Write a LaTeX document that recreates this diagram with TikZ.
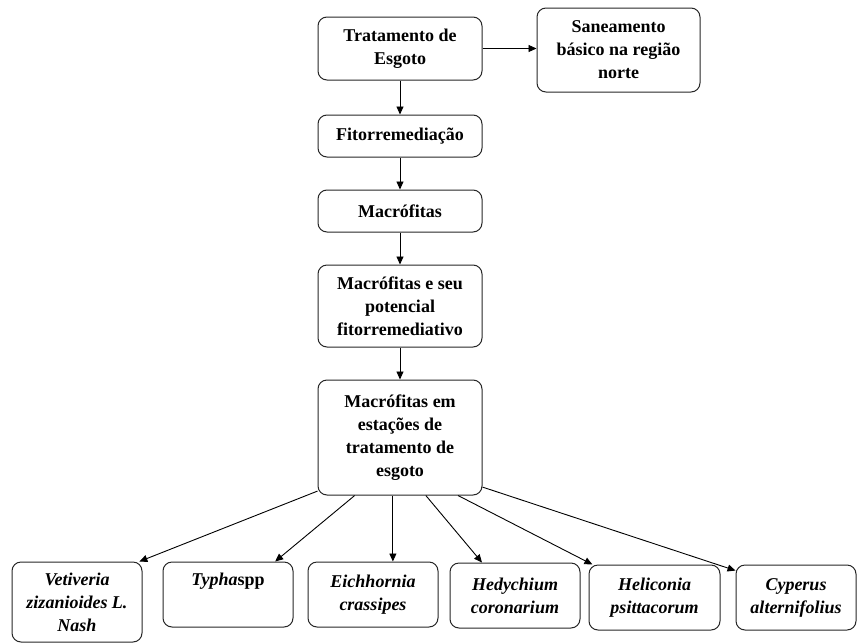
\documentclass[tikz,border=0pt]{standalone}
\usepackage{fontspec}
\setmainfont{Liberation Serif}
\usetikzlibrary{arrows.meta, positioning}

\tikzset{
  caixa/.style={draw=black!85, line width=1pt, rounded corners=9pt, align=center,
    font=\fontsize{18}{23}\selectfont\bfseries, inner sep=2pt},
  especie/.style={caixa, font=\fontsize{18}{23}\selectfont\bfseries\itshape,
    minimum width=130pt, minimum height=65pt},
  seta/.style={line width=0.9pt, -{Triangle[length=8pt,width=7pt]}}
}

\begin{document}
\begin{tikzpicture}[x=1pt,y=-1pt]
\useasboundingbox (0,0) rectangle (857,643);
% Coluna central
\node[caixa, minimum width=164pt, minimum height=63pt] (trat) at (400,48.5) {Tratamento de\\Esgoto};
\node[caixa, minimum width=163pt, minimum height=84pt] (san) at (618.5,50) {Saneamento\\básico na região\\norte};
\node[caixa, minimum width=164pt, minimum height=42pt] (fito) at (400,136) {Fitorremediação};
\node[caixa, minimum width=164pt, minimum height=42pt] (macro) at (400,211) {Macrófitas};
\node[caixa, minimum width=164pt, minimum height=82pt] (pot) at (400,306) {Macrófitas e seu\\potencial\\fitorremediativo};
\node[caixa, minimum width=164pt, minimum height=115pt] (ete) at (400,437.5) {Macrófitas em\\estações de\\tratamento de\\esgoto};
% Especies
\node[especie, minimum height=80pt] (vet) at (77,602) {Vetiveria\\zizanioides L.\\Nash};
\node[especie] (typha) at (228,594.5) {Typha\textup{spp}\\\strut};
\node[especie] (eich) at (373,594.5) {Eichhornia\\crassipes};
\node[especie] (hedy) at (515,595.5) {Hedychium\\coronarium};
\node[especie, minimum width=131pt] (heli) at (654.5,597.5) {Heliconia\\psittacorum};
\node[especie, minimum width=120pt] (cyp) at (796,597.5) {Cyperus\\alternifolius};
% Setas
\draw[seta] (trat.east) -- (trat.east -| san.west);
\draw[seta] (trat) -- (fito);
\draw[seta] (fito) -- (macro);
\draw[seta] (macro) -- (pot);
\draw[seta] (pot) -- (ete);
\draw[seta] (ete.213) -- (vet.33);
\draw[seta] (ete.232) -- (typha.35);
\draw[seta] (ete.263) -- (ete.263 |- eich.north);
\draw[seta] (ete.294) -- (hedy.135);
\draw[seta] (ete.315) -- (heli.152);
\draw[seta] (ete.329) -- (cyp.156);
\end{tikzpicture}
\end{document}
